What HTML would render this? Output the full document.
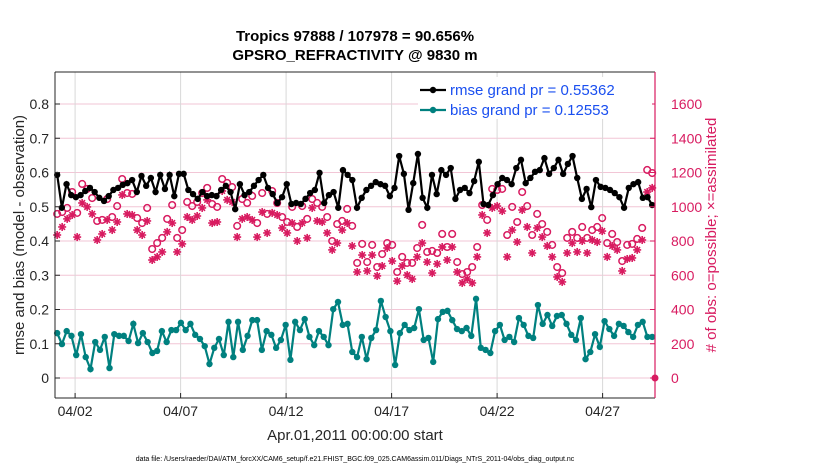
<!DOCTYPE html>
<html><head><meta charset="utf-8"><style>
body{margin:0;background:#fff;}
svg{font-family:"Liberation Sans",sans-serif;}
</style></head><body>
<svg id="chart" width="830" height="470"></svg>
<script>
const rmse=[0.593,0.497,0.566,0.534,0.528,0.534,0.546,0.555,0.543,0.526,0.517,0.531,0.549,0.555,0.564,0.569,0.578,0.543,0.590,0.561,0.584,0.543,0.593,0.552,0.593,0.531,0.596,0.596,0.549,0.537,0.523,0.543,0.531,
0.534,0.531,0.549,0.561,0.543,0.493,0.566,0.534,0.543,0.561,0.578,0.593,0.555,0.537,0.511,0.528,0.566,0.508,0.511,0.508,0.523,0.540,0.549,0.599,0.511,0.534,0.543,0.497,0.607,0.593,0.578,0.497,0.526,0.549,
0.561,0.572,0.566,0.561,0.531,0.555,0.648,0.596,0.491,0.569,0.654,0.526,0.497,0.593,0.537,0.607,0.593,0.613,0.523,0.549,0.555,0.540,0.575,0.631,0.508,0.505,0.534,0.566,0.584,0.578,
0.566,0.613,0.637,0.569,0.584,0.602,0.607,0.642,0.596,0.613,0.637,0.596,0.625,0.648,0.584,0.523,0.552,0.499,0.578,0.558,0.555,0.549,0.540,0.528,0.497,0.555,0.566,0.572,0.526,0.528,0.505];
const bias=[0.131,0.099,0.137,0.123,0.067,0.128,0.061,0.026,0.105,0.082,0.120,0.029,0.128,0.123,0.123,0.108,0.158,0.102,0.131,0.105,0.073,0.079,0.137,0.105,0.140,0.140,0.161,0.140,0.158,0.126,0.114,0.093,0.041,
0.088,0.114,0.067,0.164,0.061,0.164,0.082,0.123,0.169,0.169,0.082,0.137,0.126,0.088,0.111,0.155,0.053,0.164,0.140,0.172,0.120,0.096,0.137,0.120,0.096,0.201,0.222,0.155,0.158,0.076,0.061,0.120,
0.055,0.117,0.140,0.225,0.178,0.137,0.038,0.131,0.155,0.140,0.146,0.201,0.111,0.117,0.047,0.172,0.193,0.196,0.169,0.143,0.137,0.146,0.123,0.231,0.088,0.082,0.073,0.137,0.155,0.111,0.120,
0.105,0.175,0.155,0.123,0.117,0.213,0.158,0.184,0.152,0.181,0.184,0.158,0.126,0.111,0.175,0.055,0.076,0.128,0.091,0.166,0.143,0.123,0.158,0.152,0.134,0.120,0.155,0.164,0.120,0.120];
const possible=[958,969,993,1086,964,1133,1104,1051,917,923,1045,940,1004,1162,1080,1075,934,905,993,753,788,818,929,1010,818,864,1028,1004,1028,1080,
1110,1016,999,1162,1139,1115,888,1045,1022,1063,905,1080,958,1092,1022,940,911,999,882,1004,929,1045,1022,999,940,800,899,917,987,888,672,
783,677,777,648,724,788,777,619,707,672,672,759,894,736,742,730,841,765,841,677,607,619,648,765,1010,923,1104,1098,1104,835,
999,911,1086,1004,835,958,899,853,777,648,613,818,853,818,882,818,864,882,934,788,841,794,683,777,783,812,876,1215,1197];
const assimilated=[835,882,929,952,823,1022,999,958,806,841,923,864,911,1069,958,952,864,835,917,689,707,736,853,905,736,783,940,923,946,993,
1040,905,911,1092,1040,1028,823,929,940,923,823,969,847,964,952,876,847,905,800,905,818,993,917,911,847,748,788,864,905,771,619,
718,625,718,596,654,759,683,566,654,601,578,707,788,677,613,666,765,689,765,619,555,578,555,707,952,847,993,1004,975,707,
864,794,981,882,730,876,823,771,707,590,561,730,788,736,800,730,806,794,858,707,771,748,625,695,701,748,806,1086,1110];
const leftTicks=[0,0.1,0.2,0.3,0.4,0.5,0.6,0.7,0.8];
const rightTicks=[0,200,400,600,800,1000,1200,1400,1600];
const dateTicks=[1,6,11,16,21,26];
const dateLabels=["04/02","04/07","04/12","04/17","04/22","04/27"];
const dayStart=0.15, dayEnd=28.35;

const NS="http://www.w3.org/2000/svg";
const svg=document.getElementById('chart');
const X0=54,PX_DAY=21.1,PL=55,PR=655,PT=72,PB=398;
const xs=d=>X0+d*PX_DAY;
const yl=v=>378-v*342.5;
const yr=c=>378-c*342.5/2000;
function el(tag,attrs,parent){const e=document.createElementNS(NS,tag);for(const k in attrs)e.setAttribute(k,attrs[k]);(parent||svg).appendChild(e);return e;}
function tx(s,attrs,parent){const e=el('text',attrs,parent);e.textContent=s;return e;}
const dayOf=(i,n)=>dayStart+i*(dayEnd-dayStart)/(n-1);

// plot background
let bg=el('rect',{x:PL,y:PT,width:PR-PL,height:PB-PT,fill:'#fff',stroke:'none'});


// grid
const grid=el('g',{});


leftTicks.forEach(v=>{el('line',{x1:PL,x2:PR,y1:yl(v),y2:yl(v),stroke:'#f2c6d6','stroke-width':1},grid);});
dateTicks.forEach(d=>{el('line',{x1:xs(d),x2:xs(d),y1:PT,y2:PB,stroke:'#d8d8d8','stroke-width':1},grid);});

// assimilated asterisks
const ag=el('g',{});


assimilated.forEach((c,i)=>{const x=xs(dayOf(i,assimilated.length)),y=yr(c);
 const s=el('g',{stroke:'#d81b60','stroke-width':1.6},ag);
 
 
 for(let a=0;a<4;a++){const t=a*Math.PI/4;el('line',{x1:x-4*Math.cos(t),y1:y-4*Math.sin(t),x2:x+4*Math.cos(t),y2:y+4*Math.sin(t)},s);}
});
// possible circles
const pg=el('g',{});


possible.forEach((c,i)=>{const p=el('circle',{cx:xs(dayOf(i,possible.length)),cy:yr(c),r:3.3,fill:'none',stroke:'#d81b60','stroke-width':1.5},pg);
 
 });

function series(vals,color,name){
 const g=el('g',{});
 
 
 const pts=vals.map((v,i)=>xs(dayOf(i,vals.length)).toFixed(1)+','+yl(v).toFixed(1)).join(' ');
 const l=el('polyline',{points:pts,fill:'none',stroke:color,'stroke-width':2.2},g);
 
 
 vals.forEach((v,i)=>{const c=el('circle',{cx:xs(dayOf(i,vals.length)),cy:yl(v),r:3.2,fill:color},g);
  
  });
}
series(bias,'#00807f','bias');
series(rmse,'#000','rmse');

// zero-count marker on right
const zm=el('circle',{cx:655,cy:378,r:3.5,fill:'#d81b60'});



// axes box
const ax=el('g',{});


el('line',{x1:PL,x2:PL,y1:PT,y2:PB,stroke:'#262626','stroke-width':1},ax);
el('line',{x1:PL,x2:PR,y1:PB,y2:PB,stroke:'#262626','stroke-width':1},ax);
el('line',{x1:PL,x2:PR,y1:PT,y2:PT,stroke:'#262626','stroke-width':1},ax);
el('line',{x1:PR,x2:PR,y1:PT,y2:PB,stroke:'#d81b60','stroke-width':1.2},ax);
leftTicks.forEach(v=>{el('line',{x1:PL,x2:PL+5,y1:yl(v),y2:yl(v),stroke:'#262626'},ax);
 const t=tx(String(v),{x:PL-6,y:yl(v)+5,'text-anchor':'end','font-size':14,fill:'#262626'},ax);
 
 });
rightTicks.forEach(c=>{el('line',{x1:PR-5,x2:PR,y1:yr(c),y2:yr(c),stroke:'#d81b60'},ax);
 const t=tx(String(c),{x:PR+16,y:yr(c)+5,'font-size':14,fill:'#d81b60'},ax);
 
 });
dateTicks.forEach((d,i)=>{el('line',{x1:xs(d),x2:xs(d),y1:PB,y2:PB-5,stroke:'#262626'},ax);
 const t=tx(dateLabels[i],{x:xs(d),y:416,'text-anchor':'middle','font-size':14,fill:'#262626'},ax);
 
 });

// legend
const lg=el('g',{});


el('rect',{x:418,y:77,width:234,height:42,fill:'#fff'},lg);
[['#000','rmse grand pr = 0.55362',90],['#00807f','bias grand pr = 0.12553',110]].forEach(([c,s,y])=>{
 const e=el('g',{},lg);
 
 
 el('line',{x1:420,x2:446,y1:y,y2:y,stroke:c,'stroke-width':2.2},e);
 el('circle',{cx:433,cy:y,r:3.2,fill:c},e);
 tx(s,{x:450,y:y+5,'font-size':15,fill:'#1a4ff0'},e);
});

// titles
let t;
t=tx('Tropics 97888 / 107978 = 90.656%',{x:355,y:41,'text-anchor':'middle','font-size':15,'font-weight':'bold',fill:'#000'});


t=tx('GPSRO_REFRACTIVITY @ 9830 m',{x:355,y:60,'text-anchor':'middle','font-size':15,'font-weight':'bold',fill:'#000'});


t=tx('rmse and bias (model - observation)',{x:0,y:0,'text-anchor':'middle','font-size':15,fill:'#262626',transform:'translate(24,235) rotate(-90)'});


t=tx('# of obs: o=possible; \u00d7=assimilated',{x:0,y:0,'text-anchor':'middle','font-size':15,fill:'#d81b60',transform:'translate(716,235) rotate(-90)'});


t=tx('Apr.01,2011 00:00:00 start',{x:355,y:440,'text-anchor':'middle','font-size':15,fill:'#262626'});


t=tx('data file: /Users/raeder/DAI/ATM_forcXX/CAM6_setup/f.e21.FHIST_BGC.f09_025.CAM6assim.011/Diags_NTrS_2011-04/obs_diag_output.nc',{x:355,y:461,'text-anchor':'middle','font-size':7,fill:'#000'});


</script>
</body></html>
